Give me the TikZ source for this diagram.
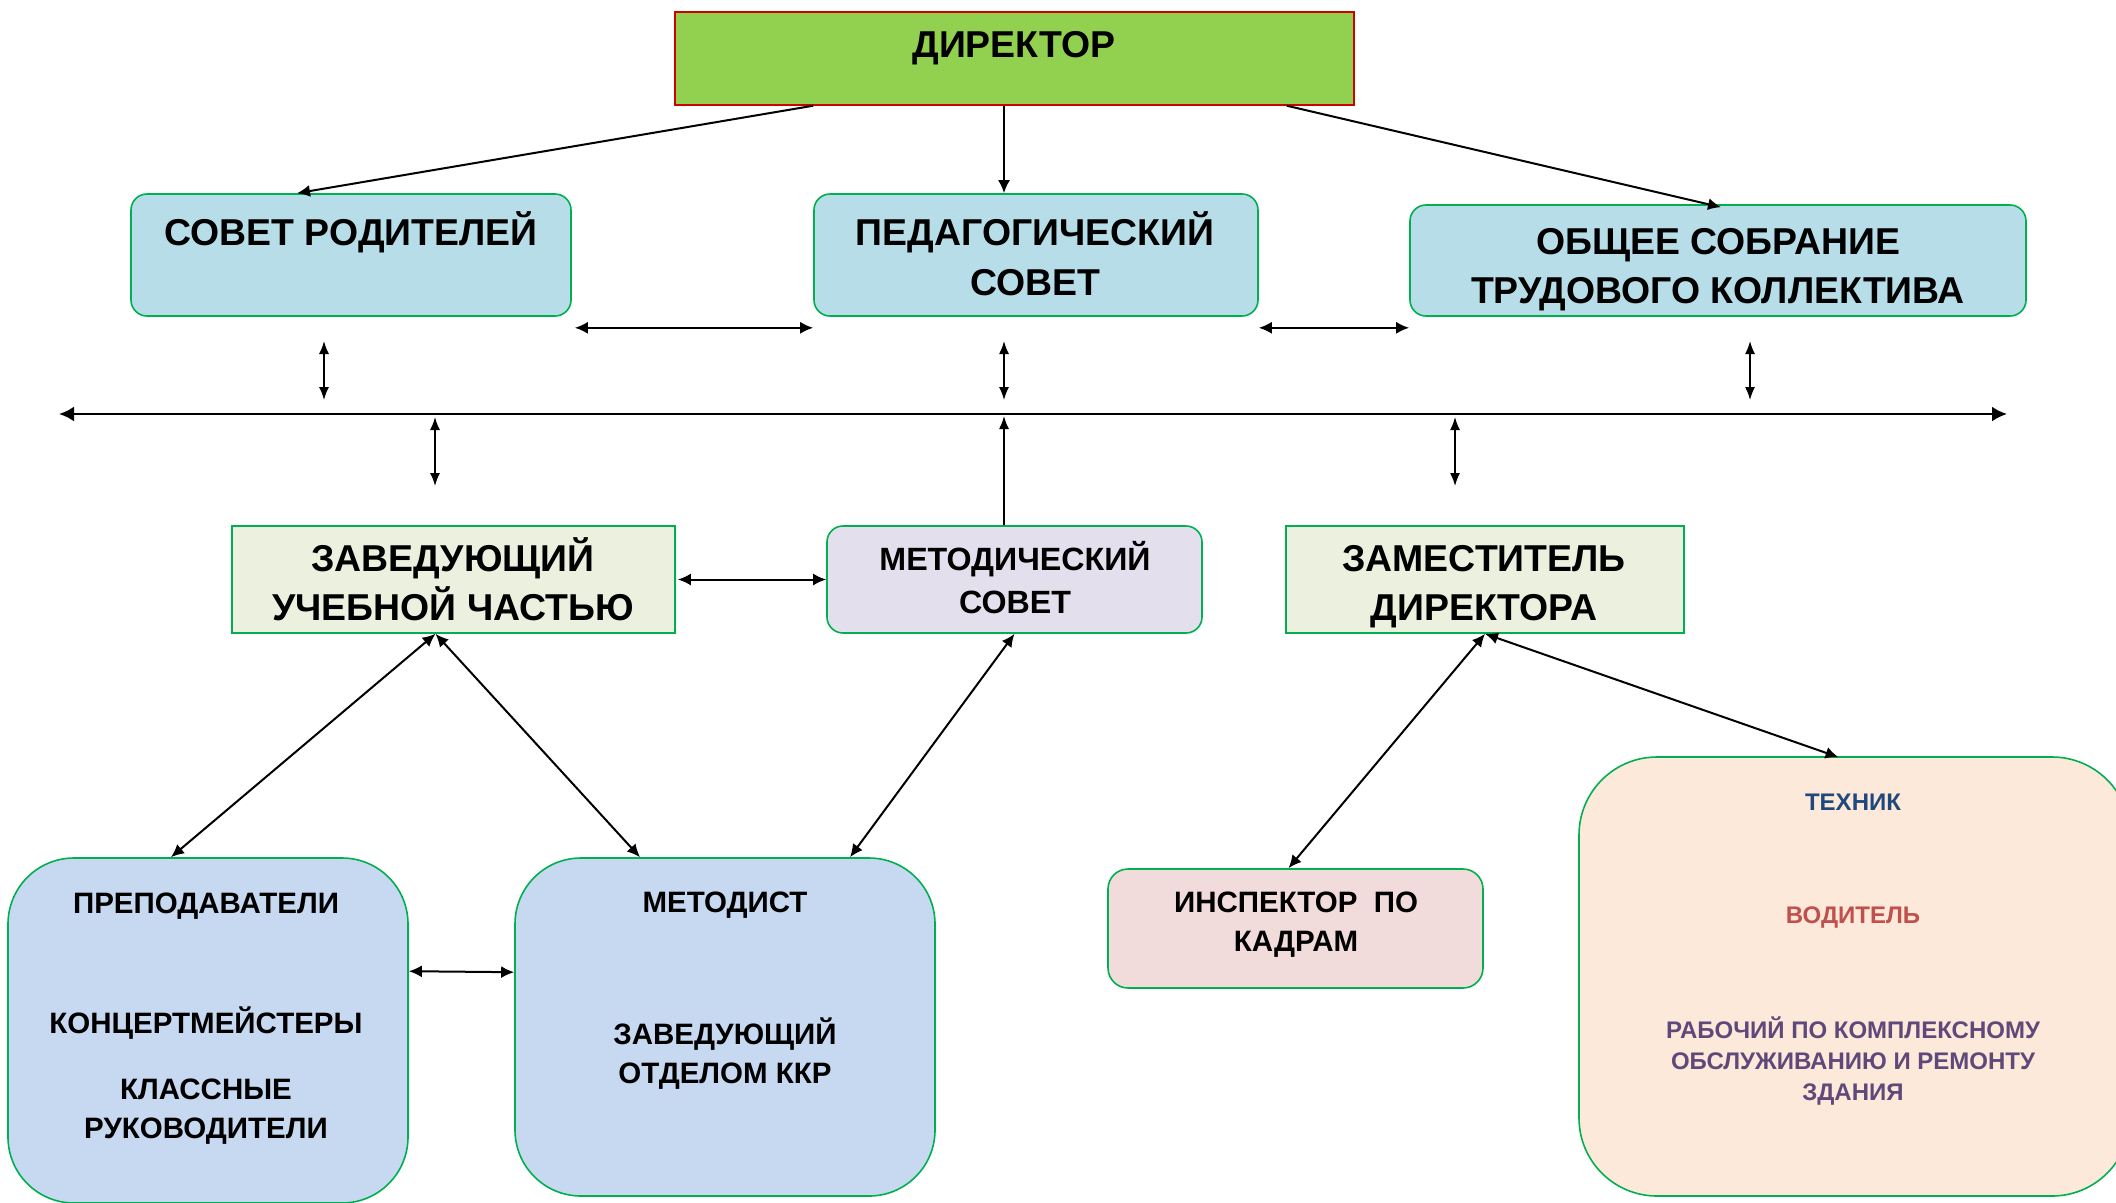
\documentclass[tikz,border=0pt]{standalone}
\usepackage{fontspec}
\setmainfont{Liberation Sans}
\usetikzlibrary{arrows.meta}
\definecolor{dirfill}{HTML}{92D050}
\definecolor{dirline}{HTML}{D00000}
\definecolor{gline}{HTML}{00B050}
\definecolor{topfill}{HTML}{B7DEE8}
\definecolor{midfill}{HTML}{EBF1DE}
\definecolor{msfill}{HTML}{E4DFEC}
\definecolor{botfill}{HTML}{C6D9F1}
\definecolor{inspfill}{HTML}{F2DCDB}
\definecolor{rfill}{HTML}{FDE9D9}
\definecolor{tblue}{HTML}{1F497D}
\definecolor{tred}{HTML}{C0504D}
\definecolor{tviolet}{HTML}{5F497A}
\tikzset{
  boxbase/.style={draw=gline, line width=1.6pt, inner sep=0pt},
  dirbox/.style={draw=dirline, fill=dirfill, line width=1.4pt, inner sep=0pt},
  topbox/.style={boxbase, fill=topfill, rounded corners=16pt},
  midbox/.style={boxbase, fill=midfill},
  msbox/.style={boxbase, fill=msfill, rounded corners=16pt},
  botbox/.style={boxbase, fill=botfill, rounded corners=66pt},
  inspbox/.style={boxbase, fill=inspfill, rounded corners=20pt},
  rbox/.style={boxbase, fill=rfill, rounded corners=78pt},
  tbig/.style={font=\fontsize{37.4}{42}\selectfont\bfseries, anchor=base, inner sep=0pt},
  tms/.style={font=\fontsize{32.2}{36}\selectfont\bfseries, anchor=base, inner sep=0pt},
  tmed/.style={font=\fontsize{29.5}{33}\selectfont\bfseries, anchor=base, inner sep=0pt},
  tsmall/.style={font=\fontsize{24}{28}\selectfont\bfseries, anchor=base, inner sep=0pt},
  conn/.style={line width=2pt, {Latex[length=13pt,width=12pt]}-{Latex[length=13pt,width=12pt]}},
  thinconn/.style={line width=1.5pt, {Latex[length=13pt,width=10pt]}-{Latex[length=13pt,width=10pt]}},
  oneway/.style={line width=2pt, -{Latex[length=13pt,width=12pt]}},
  onewaythin/.style={line width=1.5pt, -{Latex[length=13pt,width=10pt]}},
  busline/.style={line width=2.5pt, {Latex[length=15pt,width=15pt]}-{Latex[length=15pt,width=15pt]}}
}
\begin{document}
\begin{tikzpicture}[x=1pt,y=-1pt]
\useasboundingbox (0,0) rectangle (2116,1202);
% boxes
\node[dirbox, minimum width=679pt, minimum height=93pt] (dir) at (1014.5,58.5) {};
\node[topbox, minimum width=440pt, minimum height=122pt] (sr) at (351,255) {};
\node[topbox, minimum width=444pt, minimum height=122pt] (ps) at (1036,255) {};
\node[topbox, minimum width=616pt, minimum height=111pt] (os) at (1718,260.5) {};
\node[midbox, minimum width=443pt, minimum height=107pt] (zuch) at (453.5,579.5) {};
\node[msbox, minimum width=375pt, minimum height=107pt] (ms) at (1014.5,579.5) {};
\node[midbox, minimum width=398pt, minimum height=107pt] (zd) at (1485,579.5) {};
\node[botbox, minimum width=400pt, minimum height=345pt] (prep) at (208,1030.5) {};
\node[botbox, minimum width=420pt, minimum height=338pt] (met) at (725,1027) {};
\node[inspbox, minimum width=375pt, minimum height=119pt] (insp) at (1295.5,928.5) {};
\node[rbox, minimum width=551pt, minimum height=439pt] (rb) at (1854.5,976.5) {};
% texts
\node[tbig] (t1) at (1014,57) {ДИРЕКТОР};
\node[tbig] (t2) at (351,245) {СОВЕТ РОДИТЕЛЕЙ};
\node[tbig] (t3) at (1035,245) {ПЕДАГОГИЧЕСКИЙ};
\node[tbig] (t4) at (1035,295) {СОВЕТ};
\node[tbig] (t5) at (1718,254.5) {ОБЩЕЕ СОБРАНИЕ};
\node[tbig] (t6) at (1718,303) {ТРУДОВОГО КОЛЛЕКТИВА};
\node[tbig] (t7) at (453,571.5) {ЗАВЕДУЮЩИЙ};
\node[tbig] (t8) at (453,620) {УЧЕБНОЙ ЧАСТЬЮ};
\node[tms] (t9) at (1015,570) {МЕТОДИЧЕСКИЙ};
\node[tms] (t10) at (1015,613) {СОВЕТ};
\node[tbig] (t11) at (1484,571.5) {ЗАМЕСТИТЕЛЬ};
\node[tbig] (t12) at (1484,620) {ДИРЕКТОРА};
\node[tmed] (t13) at (206,913.5) {ПРЕПОДАВАТЕЛИ};
\node[tmed] (t14) at (206,1033.5) {КОНЦЕРТМЕЙСТЕРЫ};
\node[tmed] (t15) at (206,1099.5) {КЛАССНЫЕ};
\node[tmed] (t16) at (206,1138.5) {РУКОВОДИТЕЛИ};
\node[tmed] (t17) at (725,912) {МЕТОДИСТ};
\node[tmed] (t18) at (725,1044) {ЗАВЕДУЮЩИЙ};
\node[tmed] (t19) at (725,1083) {ОТДЕЛОМ ККР};
\node[tmed] (t20) at (1296,912) {ИНСПЕКТОР\ \ ПО};
\node[tmed] (t21) at (1296,951) {КАДРАМ};
\node[tsmall, text=tblue] (t22) at (1853,810) {ТЕХНИК};
\node[tsmall, text=tred] (t23) at (1853,923) {ВОДИТЕЛЬ};
\node[tsmall, text=tviolet] (t24) at (1853,1038) {РАБОЧИЙ ПО КОМПЛЕКСНОМУ};
\node[tsmall, text=tviolet] (t25) at (1853,1069) {ОБСЛУЖИВАНИЮ И РЕМОНТУ};
\node[tsmall, text=tviolet] (t26) at (1853,1100) {ЗДАНИЯ};
% bus and free-end coordinates
\coordinate (busL) at (59,414);
\coordinate (busR) at (2007,414);
\coordinate (busM) at (1004,416);
\coordinate (a1t) at (324,341); \coordinate (a1b) at (324,400);
\coordinate (a2t) at (1004,341); \coordinate (a2b) at (1004,400);
\coordinate (a3t) at (1750,341); \coordinate (a3b) at (1750,400);
\coordinate (b1t) at (435,417); \coordinate (b1b) at (435,486);
\coordinate (b2t) at (1455,417); \coordinate (b2b) at (1455,486);
\draw[busline] (busL) -- (busR);
\draw[thinconn] (a1t) -- (a1b);
\draw[thinconn] (a2t) -- (a2b);
\draw[thinconn] (a3t) -- (a3b);
\draw[thinconn] (b1t) -- (b1b);
\draw[thinconn] (b2t) -- (b2b);
\draw[onewaythin] (ms.north -| busM) -- (busM);
% director connectors
\draw[oneway] ([xshift=139pt]dir.south west) -- ([xshift=-54pt]sr.north);
\draw[oneway] (dir.south -| busM) -- (ps.north -| busM);
\draw[oneway] ([xshift=-68pt]dir.south east) -- ([xshift=3pt,yshift=-3pt]os.north);
% horizontal connectors between top boxes
\draw[conn] ([xshift=3pt,yshift=-11pt]sr.south east) -- ([yshift=-11pt]ps.south west);
\draw[conn] ([yshift=-11pt]ps.south east) -- ([yshift=-11pt]os.south west);
% middle row
\draw[conn] ([xshift=2pt]zuch.east) -- (ms.west);
\draw[conn] ([xshift=-18pt]zuch.south) -- ([xshift=-37pt]prep.north);
\draw[conn] ([xshift=-18pt]zuch.south) -- ([xshift=-85pt]met.north);
\draw[conn] (ms.south) -- ([xshift=125pt]met.north);
\draw[conn] (zd.south) -- ([xshift=-7pt]insp.north);
\draw[conn] (zd.south) -- ([xshift=-16pt,yshift=-1pt]rb.north);
\draw[conn] ([yshift=-114pt]prep.north east) -- ([yshift=-115pt]met.north west);
\end{tikzpicture}
\end{document}
